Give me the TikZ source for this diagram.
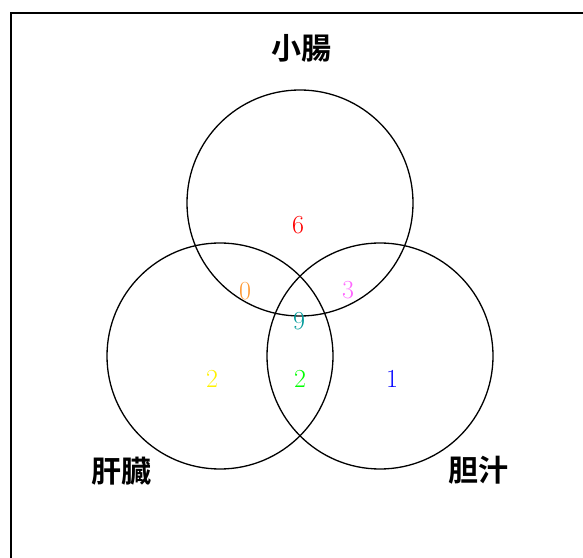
\documentclass[tikz,border=0pt]{standalone}
\usepackage{fontspec}
\newfontfamily\cjk{Noto Sans CJK JP}[BoldFont={Noto Sans CJK JP Bold}]
\definecolor{corange}{RGB}{255,153,51}
\definecolor{cpink}{RGB}{255,102,255}
\definecolor{cteal}{RGB}{0,153,153}
\begin{document}
\begin{tikzpicture}[x=1pt,y=1pt,
  setc/.style={draw=black,line width=1.3pt,circle,minimum size=226pt,inner sep=0pt},
  title/.style={font=\cjk\bfseries\fontsize{30}{30}\selectfont},
  num/.style={font=\fontsize{26}{26}\selectfont}]
\useasboundingbox (0,0) rectangle (583,557);
\draw[line width=1.6pt] (11,-5) -- (11,544) -- (590,544);
\node[setc] (top) at (300,354) {};
\node[setc] (left) at (220,201) {};
\node[setc] (right) at (380,201) {};
\node[title] (t1) at (301,509) {小腸};
\node[title] (t2) at (121,86) {肝臓};
\node[title] (t3) at (478,87) {胆汁};
\node[num,text=red] (n6) at (298,332) {6};
\node[num,text=corange] (n0) at (245,266) {0};
\node[num,text=cpink] (n3) at (348,267) {3};
\node[num,text=cteal] (n9) at (299,236) {9};
\node[num,text=yellow] (n2a) at (212,178) {2};
\node[num,text=green] (n2b) at (300,178) {2};
\node[num,text=blue] (n1) at (392,178) {1};
\end{tikzpicture}
\end{document}
